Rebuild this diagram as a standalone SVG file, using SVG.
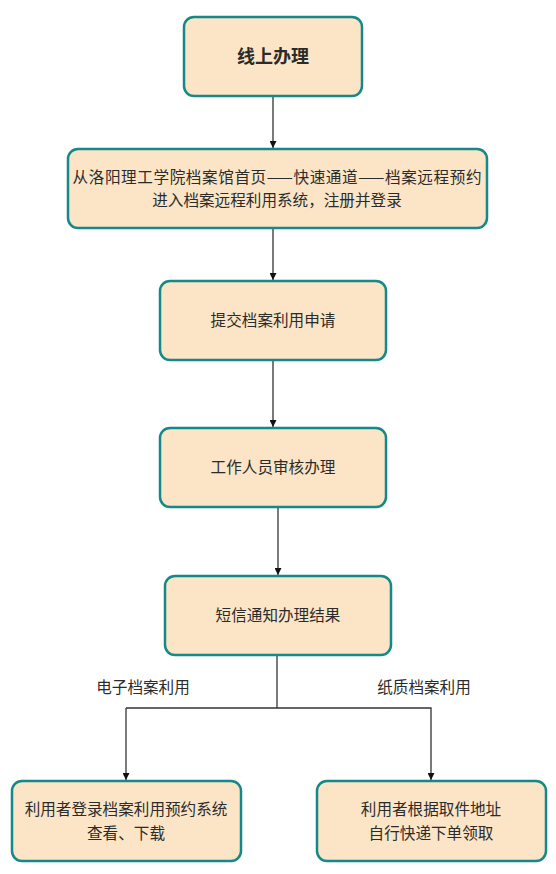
<svg xmlns="http://www.w3.org/2000/svg" width="556" height="874" viewBox="0 0 556 874">
<style>
.box{fill:#fbe5c6;stroke:#15898a;stroke-width:2.5}
.t{font-family:"Noto Sans CJK SC","Noto Sans",sans-serif;font-size:15.6px;fill:#2b2b2b;text-anchor:middle}
.b{font-size:18px;font-weight:bold}
.c{fill:none;stroke:#333;stroke-width:1.3}
</style>
<defs>
<marker id="ar" viewBox="0 0 10 10" refX="10" refY="5" markerWidth="7" markerHeight="7" orient="auto" markerUnits="userSpaceOnUse">
<path d="M0,0 L10,5 L0,10 z" fill="#111"/>
</marker>
</defs>
<rect width="556" height="874" fill="#fff"/>
<g id="connectors">
<line class="c" x1="273" y1="97" x2="273" y2="148" marker-end="url(#ar)"/>
<line class="c" x1="273" y1="229" x2="273" y2="280" marker-end="url(#ar)"/>
<line class="c" x1="273" y1="361" x2="273" y2="427" marker-end="url(#ar)"/>
<line class="c" x1="278" y1="508" x2="278" y2="575" marker-end="url(#ar)"/>
<polyline class="c" points="277,656 277,708"/>
<polyline class="c" points="126,708 431,708 431,780" marker-end="url(#ar)"/>
<line class="c" x1="126" y1="708" x2="126" y2="780" marker-end="url(#ar)"/>
<text class="t" x="143" y="693">电子档案利用</text>
<text class="t" x="424" y="693">纸质档案利用</text>
</g>
<g id="n1"><rect class="box" x="184" y="17" width="178" height="79" rx="10"/><text class="t b" x="273" y="63">线上办理</text></g>
<g id="n2"><rect class="box" x="68" y="149" width="419" height="79" rx="10"/><text class="t" x="277" y="183" textLength="409" lengthAdjust="spacing">从洛阳理工学院档案馆首页——快速通道——档案远程预约</text><text class="t" x="277" y="206">进入档案远程利用系统，注册并登录</text></g>
<g id="n3"><rect class="box" x="160" y="281" width="226" height="79" rx="10"/><text class="t" x="273" y="326">提交档案利用申请</text></g>
<g id="n4"><rect class="box" x="160" y="428" width="226" height="79" rx="10"/><text class="t" x="273" y="473">工作人员审核办理</text></g>
<g id="n5"><rect class="box" x="165" y="576" width="226" height="79" rx="10"/><text class="t" x="278" y="621">短信通知办理结果</text></g>
<g id="n6"><rect class="box" x="12" y="781" width="229" height="80" rx="10"/><text class="t" x="126" y="815">利用者登录档案利用预约系统</text><text class="t" x="126" y="839">查看、下载</text></g>
<g id="n7"><rect class="box" x="317" y="781" width="229" height="80" rx="10"/><text class="t" x="431" y="815">利用者根据取件地址</text><text class="t" x="431" y="839">自行快递下单领取</text></g>
</svg>
